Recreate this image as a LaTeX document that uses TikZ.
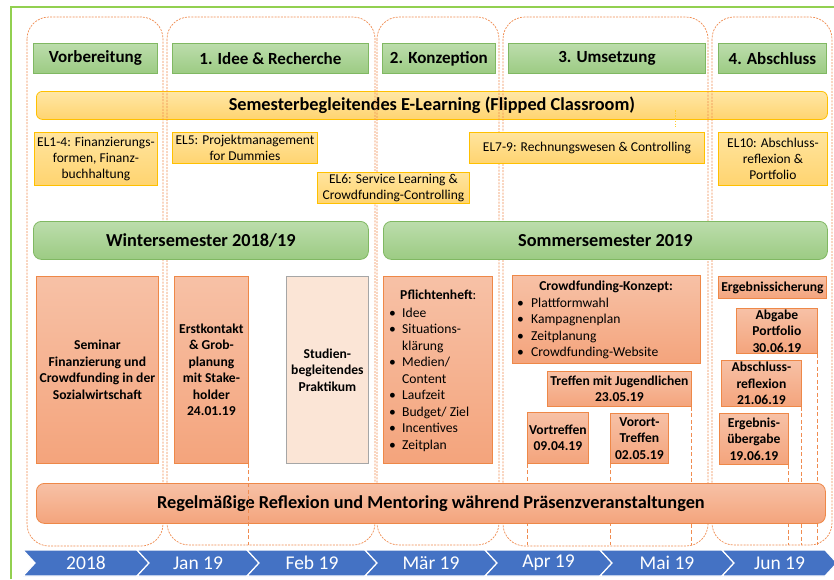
\documentclass[tikz,border=0pt]{standalone}
\usepackage{fontspec}
\setmainfont{Carlito}
\usetikzlibrary{calc}

\definecolor{frameGreen}{RGB}{146,208,80}
\definecolor{hdrTop}{RGB}{188,221,172}
\definecolor{hdrBot}{RGB}{156,203,131}
\definecolor{hdrLine}{RGB}{128,184,98}
\definecolor{elTop}{RGB}{255,231,166}
\definecolor{elBot}{RGB}{255,212,112}
\definecolor{elLine}{RGB}{255,192,0}
\definecolor{orTop}{RGB}{247,193,166}
\definecolor{orBot}{RGB}{244,164,124}
\definecolor{orLine}{RGB}{238,136,72}
\definecolor{phaseLine}{RGB}{240,140,80}
\definecolor{praktFill}{RGB}{251,229,214}
\definecolor{praktLine}{RGB}{166,166,166}
\definecolor{tlBlue}{RGB}{68,114,196}

\newcommand\bul{\makebox[13pt][l]{•}}

\tikzset{
  phase/.style={draw=phaseLine, line width=0.7pt, dash pattern=on 2pt off 1.2pt, rounded corners=22pt},
  hdr/.style={draw=hdrLine, line width=0.8pt, top color=hdrTop, bottom color=hdrBot,
    inner sep=0pt, anchor=north west, font=\bfseries\fontsize{17}{20}\selectfont},
  elbar/.style={draw=elLine, line width=0.8pt, top color=elTop, bottom color=elBot,
    inner sep=0pt, anchor=north west, rounded corners=6pt, font=\bfseries\fontsize{18.3}{20}\selectfont},
  elbox/.style={draw=elLine, line width=0.9pt, top color=elTop!85!elBot, bottom color=elBot,
    inner sep=0pt, anchor=north west, align=center, font=\fontsize{13.5}{16}\selectfont},
  eltick/.style={draw=elLine!80, line width=1pt, dash pattern=on 1.5pt off 1.2pt},
  sembar/.style={hdr, rounded corners=8pt, font=\bfseries\fontsize{18.3}{20}\selectfont},
  obox/.style={draw=orLine, line width=0.8pt, top color=orTop, bottom color=orBot,
    inner sep=0pt, anchor=north west, align=center, font=\bfseries\fontsize{13.6}{16.5}\selectfont},
  pbox/.style={draw=praktLine, line width=0.8pt, fill=praktFill,
    inner sep=0pt, anchor=north west, align=center, font=\bfseries\fontsize{13.6}{16.5}\selectfont},
  listtext/.style={anchor=north west, align=left, inner sep=0pt, font=\fontsize{13.6}{16.5}\selectfont},
  refbar/.style={obox, rounded corners=8pt, font=\bfseries\fontsize{18.3}{20}\selectfont},
  vconn/.style={draw=phaseLine, line width=0.8pt, dash pattern=on 4pt off 2.5pt},
  chev/.style={fill=tlBlue, draw=white, line width=1.2pt},
  tllabel/.style={text=white, inner sep=0pt, font=\fontsize{19.5}{20}\selectfont}
}

\begin{document}
\begin{tikzpicture}[x=1pt,y=-1pt]
\useasboundingbox (0,0) rectangle (834,579);
\fill[white] (0,0) rectangle (834,579);

% outer frame
\draw[frameGreen, line width=1.5pt] (11,579) -- (11,7) -- (834,7);

% e-learning band (under the phase outlines)
\node[elbar, minimum width=791pt, minimum height=28pt] (elearn) at (36,91)
  {Semesterbegleitendes E-Learning (Flipped Classroom)};

% phase outlines
\draw[phase] (27,17) rectangle (163,546);
\draw[phase] (167,17) rectangle (375,545);
\draw[phase] (377,17) rectangle (499,545);
\draw[phase] (503,17) rectangle (708,546);
\draw[phase] (712,17) rectangle (832,545);

% phase headers
\node[hdr, minimum width=124pt, minimum height=30pt] (hvor) at (33,43) {Vorbereitung};
\node[hdr, minimum width=196pt, minimum height=30pt] (hidee) at (172,43) {1. Idee \& Recherche};
\node[hdr, minimum width=113pt, minimum height=30pt] (hkon) at (382,43) {2. Konzeption};
\node[hdr, minimum width=197pt, minimum height=30pt] (hums) at (508,43) {3. Umsetzung};
\node[hdr, minimum width=108pt, minimum height=30pt] (habs) at (718,43) {4. Abschluss};

% e-learning units
\node[elbox, minimum width=123pt, minimum height=53pt] (el14) at (34,132)
  {EL1-4: Finanzierungs-\\formen, Finanz-\\buchhaltung};
\node[elbox, minimum width=145pt, minimum height=31pt] (el5) at (172,132)
  {EL5: Projektmanagement\\for Dummies};
\node[elbox, minimum width=152pt, minimum height=31pt] (el6) at (317,172)
  {EL6: Service Learning \&\\Crowdfunding-Controlling};
\node[elbox, minimum width=235pt, minimum height=31pt] (el79) at (469,132)
  {EL7-9: Rechnungswesen \& Controlling};
\node[elbox, minimum width=109pt, minimum height=53pt] (el10) at (718,132)
  {EL10: Abschluss-\\reflexion \&\\Portfolio};
\coordinate (tickTop) at (675,110);
\coordinate (tickEnd) at (675,127);
\draw[eltick] (tickTop) -- (tickEnd);

% semesters
\node[sembar, minimum width=335pt, minimum height=38pt] (ws) at (33,221) {Wintersemester 2018/19};
\node[sembar, minimum width=444pt, minimum height=38pt] (ss) at (383,221) {Sommersemester 2019};

% activities
\node[obox, minimum width=122pt, minimum height=187pt] (sem) at (36,276)
  {Seminar\\Finanzierung und\\Crowdfunding in der\\Sozialwirtschaft};
\node[obox, minimum width=74pt, minimum height=187pt] (erst) at (174,276)
  {Erstkontakt\\\& Grob-\\planung\\mit Stake-\\holder\\24.01.19};
\node[pbox, minimum width=82pt, minimum height=187pt] (prakt) at (286,276)
  {Studien-\\begleitendes\\Praktikum};
\node[obox, minimum width=109pt, minimum height=187pt] (pfl) at (383,276) {};
\node[listtext] (pfltxt) at (389,289.5)
  {\hspace*{11pt}\textbf{Pflichtenheft}:\\[1.5pt]
   \bul Idee\\
   \bul Situations-\\
   \hspace*{13pt}klärung\\
   \bul Medien/\\
   \hspace*{13pt}Content\\
   \bul Laufzeit\\
   \bul Budget/ Ziel\\
   \bul Incentives\\
   \bul Zeitplan};
\node[obox, minimum width=188pt, minimum height=88pt] (cfk) at (512,275) {};
\node[inner sep=0pt, font=\bfseries\fontsize{13.6}{16.5}\selectfont] (cfktitle) at (606,287) {Crowdfunding-Konzept:};
\node[listtext] (cfktxt) at (517,297.5)
  {\makebox[14pt][l]{•}Plattformwahl\\
   \makebox[14pt][l]{•}Kampagnenplan\\
   \makebox[14pt][l]{•}Zeitplanung\\
   \makebox[14pt][l]{•}Crowdfunding-Website};
\node[obox, minimum width=144pt, minimum height=35pt] (tmj) at (547,371)
  {Treffen mit Jugendlichen\\23.05.19};
\node[obox, minimum width=61pt, minimum height=51pt] (vort) at (527,412)
  {Vortreffen\\09.04.19};
\node[obox, minimum width=58pt, minimum height=50pt] (voro) at (610,413)
  {Vorort-\\Treffen\\02.05.19};
\node[obox, minimum width=108pt, minimum height=22pt] (erg) at (718,276)
  {Ergebnissicherung};
\node[obox, minimum width=81pt, minimum height=45pt] (abg) at (736,308)
  {Abgabe\\Portfolio\\30.06.19};
\node[obox, minimum width=80pt, minimum height=46pt] (absr) at (721,360)
  {Abschluss-\\reflexion\\21.06.19};
\node[obox, minimum width=69pt, minimum height=51pt] (ergu) at (719,413)
  {Ergebnis-\\übergabe\\19.06.19};

% date drop lines
\coordinate (floor) at (0,545);
\draw[vconn] (vort.south west) -- (vort.south west |- floor);
\draw[vconn] (voro.south west) -- (voro.south west |- floor);
\draw[vconn] (tmj.south east) -- (tmj.south east |- floor);
\draw[vconn] (ergu.south east) -- (ergu.south east |- floor);
\draw[vconn] (absr.south east) -- (absr.south east |- floor);
\draw[vconn] (abg.south east) -- (abg.south east |- floor);

% reflection band
\node[refbar, minimum width=789pt, minimum height=40pt] (refl) at (36,483)
  {Regelmäßige Reflexion und Mentoring während Präsenzveranstaltungen};
\draw[vconn] (erst.south east) -- (erst.south east |- floor);

% timeline
\foreach \xl/\xr/\lab/\nm in {23/137/2018/t0, 137/247/Jan 19/t1, 247/365/Feb 19/t2,
    365/485/Mär 19/t3, 485/600/Apr 19/t4, 600/722/Mai 19/t5, 722/825/Jun 19/t6}{
  \draw[chev] (\xl,550) -- (\xr,550) -- (\xr+12,563) -- (\xr,576) -- (\xl,576) -- (\xl+12,563) -- cycle;
  \node[tllabel] (\nm) at ({(\xl+\xr)/2+6},563) {\lab};
}
\end{tikzpicture}
\end{document}
